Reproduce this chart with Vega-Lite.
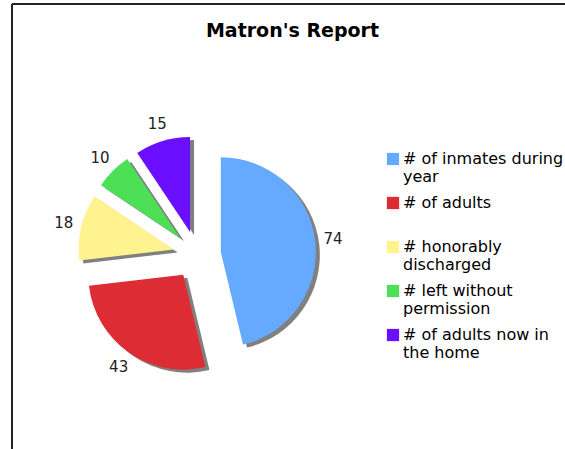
{
  "$schema": "https://vega.github.io/schema/vega-lite/v6.json",
  "autosize": "none",
  "width": 553,
  "height": 445,
  "padding": {"left": 12, "top": 4, "right": 0, "bottom": 0},
  "background": "white",
  "view": {"stroke": "#222", "strokeWidth": 2, "strokeDash": [553, 998, 445, 0]},
  "config": {
    "view": {"stroke": "#222", "strokeWidth": 2, "strokeDash": [553, 998, 445, 0]},
    "style": {"view": {"stroke": "#222", "strokeWidth": 2, "strokeDash": [553, 998, 445, 0]}},
    "font": "DejaVu Sans"
  },
  "title": {
    "text": "Matron's Report",
    "font": "DejaVu Sans",
    "fontSize": 19,
    "fontWeight": "bold",
    "color": "#000",
    "anchor": "middle",
    "frame": "group",
    "baseline": "alphabetic",
    "offset": -34,
    "dx": 4,
    "dy": 18
  },
  "data": {
    "values": [
      {"category": "# of inmates during year", "value": 74},
      {"category": "# of adults", "value": 43},
      {"category": "# honorably discharged", "value": 18},
      {"category": "# left without permission", "value": 10},
      {"category": "# of adults now in the home", "value": 15}
    ]
  },
  "transform": [{"window": [{"op": "row_number", "as": "idx"}]}],
  "encoding": {
    "theta": {"field": "value", "type": "quantitative", "stack": true},
    "order": {"field": "idx", "type": "quantitative"},
    "detail": {"field": "category", "type": "nominal"}
  },
  "layer": [
    {
      "mark": {
        "type": "arc",
        "outerRadius": 95,
        "color": "#808080",
        "x": {"expr": "189 + 24*sin(scale('theta', (datum.value_start + datum.value_end)/2))"},
        "y": {"expr": "254 - 24*cos(scale('theta', (datum.value_start + datum.value_end)/2))"}
      }
    },
    {
      "mark": {
        "type": "arc",
        "outerRadius": 95,
        "x": {"expr": "185 + 24*sin(scale('theta', (datum.value_start + datum.value_end)/2))"},
        "y": {"expr": "251 - 24*cos(scale('theta', (datum.value_start + datum.value_end)/2))"}
      },
      "encoding": {
        "color": {
          "field": "category",
          "type": "nominal",
          "scale": {
            "domain": ["# of inmates during year", "# of adults", "# honorably discharged", "# left without permission", "# of adults now in the home"],
            "range": ["#66AAFF", "#DD2C33", "#FFF38F", "#4DE057", "#6A0FFF"]
          },
          "legend": {
            "orient": "none",
            "legendX": 373,
            "legendY": 147,
            "title": null,
            "symbolType": "square",
            "symbolSize": 150,
            "symbolStrokeWidth": 0,
            "labelFont": "DejaVu Sans",
            "labelFontSize": 16,
            "labelLineHeight": 17,
            "labelLimit": 300,
            "labelBaseline": "middle",
            "labelColor": "#000",
            "labelOffset": 2,
            "rowPadding": 10,
            "labelExpr": "datum.label == '# of inmates during year' ? ['# of inmates during', 'year'] : datum.label == '# of adults' ? ['# of adults', ''] : datum.label == '# honorably discharged' ? ['# honorably', 'discharged'] : datum.label == '# left without permission' ? ['# left without', 'permission'] : ['# of adults now in', 'the home']"
          }
        }
      }
    },
    {
      "mark": {
        "type": "text",
        "radius": 113,
        "font": "DejaVu Sans",
        "fontSize": 15,
        "color": "#222",
        "align": "center",
        "baseline": "middle",
        "x": {"expr": "185 + 24*sin(scale('theta', (datum.value_start + datum.value_end)/2))"},
        "y": {"expr": "251 - 24*cos(scale('theta', (datum.value_start + datum.value_end)/2))"}
      },
      "encoding": {
        "text": {"field": "value", "type": "quantitative"}
      }
    }
  ]
}
